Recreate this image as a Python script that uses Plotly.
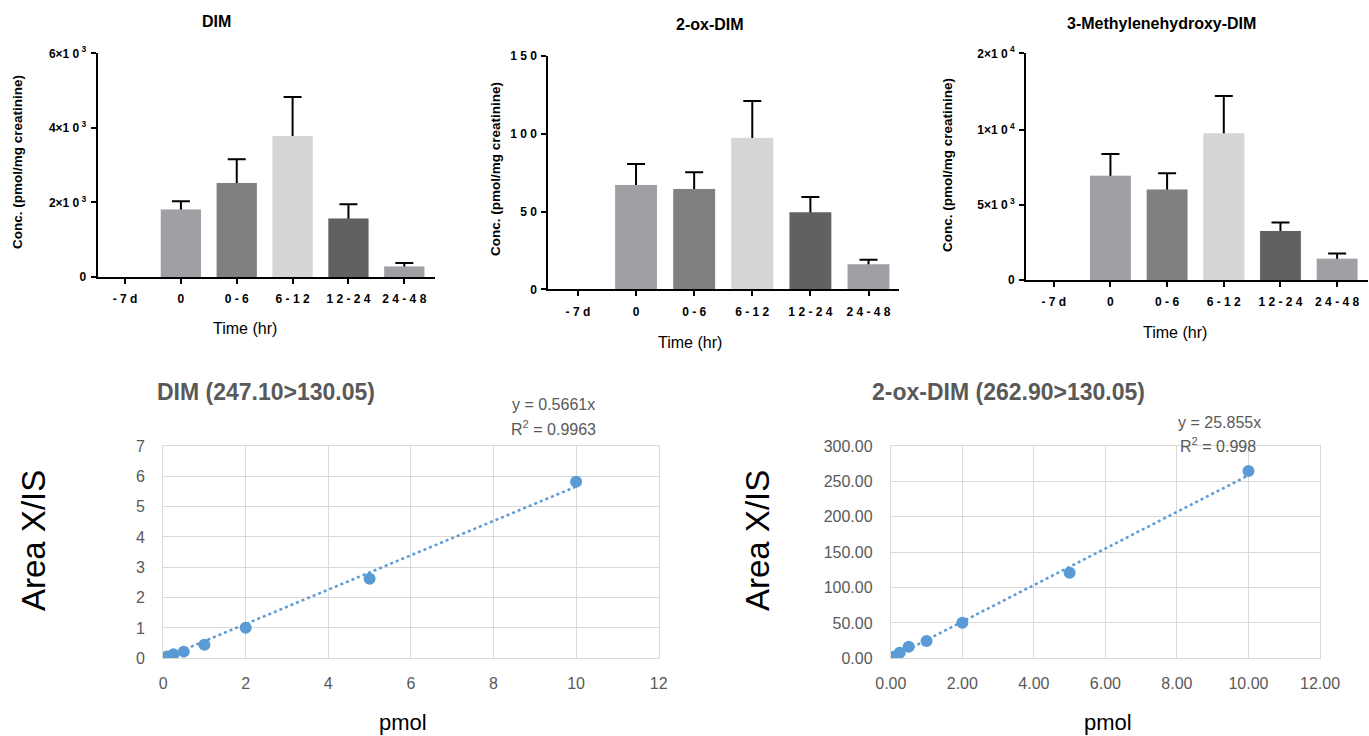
import plotly.graph_objects as go

W, H = 1369, 736
FONT = "Liberation Sans, Arial, sans-serif"

# ---------------- data ----------------
categories = ["-7d", "0", "0-6", "6-12", "12-24", "24-48"]
bar_colors = ["#a0a0a4", "#a0a0a4", "#808080", "#d6d6d6", "#606160", "#a0a0a4"]

dim_mean = [0, 1810, 2520, 3780, 1570, 280]
dim_upper = [0, 2030, 3160, 4830, 1950, 375]

oxdim_mean = [0, 67.1, 64.5, 97.3, 49.5, 16.1]
oxdim_upper = [0, 80.6, 75.2, 121.1, 59.4, 19.0]

mhdim_mean = [0, 6950, 6040, 9780, 3270, 1420]
mhdim_upper = [0, 8400, 7110, 14430, 3840, 1760]

dim_tickvals = [0, 2000, 4000, 6000]
dim_ticktext = ["0", "2×1 0<sup> 3</sup>", "4×1 0<sup> 3</sup>", "6×1 0<sup> 3</sup>"]
ox_tickvals = [0, 50, 100, 150]
ox_ticktext = ["0", "5 0", "1 0 0", "1 5 0"]
mh_tickvals = [0, 5000, 10000, 20000]
mh_ticktext = ["0", "5×1 0<sup> 3</sup>", "1×1 0<sup> 4</sup>", "2×1 0<sup> 4</sup>"]

pmol = [0, 0.05, 0.1, 0.25, 0.5, 1, 2, 5, 10]
dim_ratio = [0.0, 0.03, 0.06, 0.13, 0.22, 0.45, 1.01, 2.62, 5.82]
dim_slope, dim_r2 = 0.5661, 0.9963
ox_ratio = [0.0, 1.3, 2.6, 7.9, 16.4, 24.6, 50.3, 121.0, 264.7]
ox_slope, ox_r2 = 25.855, 0.998


# segmented axis (0-1e4 linear, 1e4-2e4 compressed), as in the reference
def seg(v):
    return v if v <= 10000 else 10000 + (v - 10000) * 0.5111


def px(x):
    return x / W


def py(y):
    return 1 - y / H


spaced = [" ".join(c) for c in categories]

fig = go.Figure()


def add_bars(mean, upper, xa, ya, tf=lambda v: v):
    m = [tf(v) for v in mean]
    e = [tf(u) - tf(v) for u, v in zip(upper, mean)]
    ym = [None if v == 0 else val for v, val in zip(mean, m)]
    # error bars first (drawn under the opaque bars so only the top half shows)
    fig.add_trace(go.Bar(x=categories, y=ym, width=0.72, xaxis=xa, yaxis=ya,
                         marker=dict(color="rgba(0,0,0,0)"),
                         error_y=dict(type="data", array=e, symmetric=True,
                                      color="black", thickness=2, width=9),
                         showlegend=False, hoverinfo="skip"))
    fig.add_trace(go.Bar(x=categories, y=m, width=0.72, xaxis=xa, yaxis=ya,
                         marker=dict(color=bar_colors, line=dict(width=0)),
                         showlegend=False))


add_bars(dim_mean, dim_upper, "x", "y")
add_bars(oxdim_mean, oxdim_upper, "x2", "y2")
add_bars(mhdim_mean, mhdim_upper, "x3", "y3", seg)


def add_cal(x, y, slope, xa, ya):
    xl = [0, max(x)]
    fig.add_trace(go.Scatter(x=xl, y=[slope * v for v in xl], mode="lines",
                             line=dict(color="#5b9bd5", width=2.5, dash="dot"),
                             xaxis=xa, yaxis=ya, showlegend=False))
    fig.add_trace(go.Scatter(x=x, y=y, mode="markers",
                             marker=dict(color="#5b9bd5", size=12),
                             xaxis=xa, yaxis=ya, showlegend=False))


add_cal(pmol, dim_ratio, dim_slope, "x4", "y4")
add_cal(pmol, ox_ratio, ox_slope, "x5", "y5")

bar_tickfont = dict(family=FONT, size=12, color="black", weight="bold")


def bar_xaxis(x0, x1, rng, anchor):
    return dict(domain=[px(x0), px(x1)], range=rng, anchor=anchor,
                type="category", tickvals=categories, ticktext=spaced,
                showline=True, linewidth=2, linecolor="black",
                ticks="outside", ticklen=5, tickwidth=2, tickcolor="black",
                tickfont=bar_tickfont, ticklabelstandoff=5,
                showgrid=False, zeroline=False, fixedrange=True)


def bar_yaxis(y0, y1, rng, tv, tt, anchor):
    return dict(domain=[py(y1), py(y0)], range=rng, anchor=anchor,
                tickvals=tv, ticktext=tt,
                showline=True, linewidth=2, linecolor="black",
                ticks="outside", ticklen=5, tickwidth=2, tickcolor="black",
                tickfont=bar_tickfont, ticklabelstandoff=2,
                showgrid=False, zeroline=False, fixedrange=True)


cal_font = dict(family=FONT, size=16, color="#595959")


def cal_xaxis(x0, x1, fmt, anchor):
    return dict(domain=[px(x0), px(x1)], range=[0, 12], dtick=2, anchor=anchor,
                tickformat=fmt, showgrid=True, gridcolor="#d9d9d9", gridwidth=1,
                showline=True, mirror=True, linecolor="#d9d9d9", linewidth=1,
                zeroline=False, ticks="", tickfont=cal_font, ticklabelstandoff=10)


def cal_yaxis(y0, y1, rng, dt, fmt, anchor):
    return dict(domain=[py(y1), py(y0)], range=rng, dtick=dt, anchor=anchor,
                tickformat=fmt, showgrid=True, gridcolor="#d9d9d9", gridwidth=1,
                showline=True, mirror=True, linecolor="#d9d9d9", linewidth=1,
                zeroline=False, ticks="", tickfont=cal_font, ticklabelstandoff=14)


fig.update_layout(
    xaxis=bar_xaxis(97.7, 435, [-0.49, 5.55], "y"),
    yaxis=bar_yaxis(53.3, 277, [0, 6000], dim_tickvals, dim_ticktext, "x"),
    xaxis2=bar_xaxis(548.3, 899.3, [-0.51, 5.53], "y2"),
    yaxis2=bar_yaxis(56, 289.3, [0, 150], ox_tickvals, ox_ticktext, "x2"),
    xaxis3=bar_xaxis(1026, 1368.3, [-0.49, 5.55], "y3"),
    yaxis3=bar_yaxis(53.3, 280, [0, seg(20000)], [seg(v) for v in mh_tickvals],
                     mh_ticktext, "x3"),
    xaxis4=cal_xaxis(163.1, 658.7, "d", "y4"),
    yaxis4=cal_yaxis(446, 658.3, [0, 7], 1, "d", "x4"),
    xaxis5=cal_xaxis(890.8, 1320, ".2f", "y5"),
    yaxis5=cal_yaxis(446, 658.3, [0, 300], 50, ".2f", "x5"),
    barmode="overlay",
    width=W, height=H, autosize=False,
    margin=dict(l=0, r=0, t=0, b=0, pad=0, autoexpand=False),
    paper_bgcolor="white", plot_bgcolor="white",
    showlegend=False,
)

anns = []


def ann(text, x, y, size, color="black", angle=0, xanchor="center", bold=False):
    anns.append(dict(text=("<b>%s</b>" % text) if bold else text,
                     x=px(x), y=py(y), xref="paper", yref="paper",
                     xanchor=xanchor, yanchor="middle", textangle=angle,
                     showarrow=False, font=dict(family=FONT, size=size, color=color)))


# bar chart titles and axis titles
ann("DIM", 216, 22, 16, bold=True)
ann("2-ox-DIM", 710, 24, 16, bold=True)
ann("3-Methylenehydroxy-DIM", 1161, 23, 16, bold=True)
ylab = "Conc. (pmol/mg creatinine)"
ann(ylab, 17, 162, 13.5, angle=-90, bold=True)
ann(ylab, 495, 169, 13.5, angle=-90, bold=True)
ann(ylab, 947, 165, 13.5, angle=-90, bold=True)
ann("Time (hr)", 245, 328, 16)
ann("Time (hr)", 690, 342, 16)
ann("Time (hr)", 1175, 332, 16)

# calibration titles etc.
ann("DIM (247.10>130.05)", 266, 392, 23, color="#595959", bold=True)
ann("2-ox-DIM (262.90>130.05)", 1009, 392, 23, color="#595959", bold=True)
ann("y = %.4fx" % dim_slope, 553, 404, 16, color="#595959")
ann("R<sup>2</sup> = %.4f" % dim_r2, 553, 428, 16, color="#595959")
ann("y = %.3fx" % ox_slope, 1219, 422, 16, color="#595959")
ann("R<sup>2</sup> = %.3f" % ox_r2, 1218, 445, 16, color="#595959")
ann("Area X/IS", 33, 541, 33, angle=-90)
ann("Area X/IS", 757, 541, 33, angle=-90)
ann("pmol", 403, 722, 22)
ann("pmol", 1108, 722, 22)

fig.update_layout(annotations=anns)
fig.write_html("out.html")
